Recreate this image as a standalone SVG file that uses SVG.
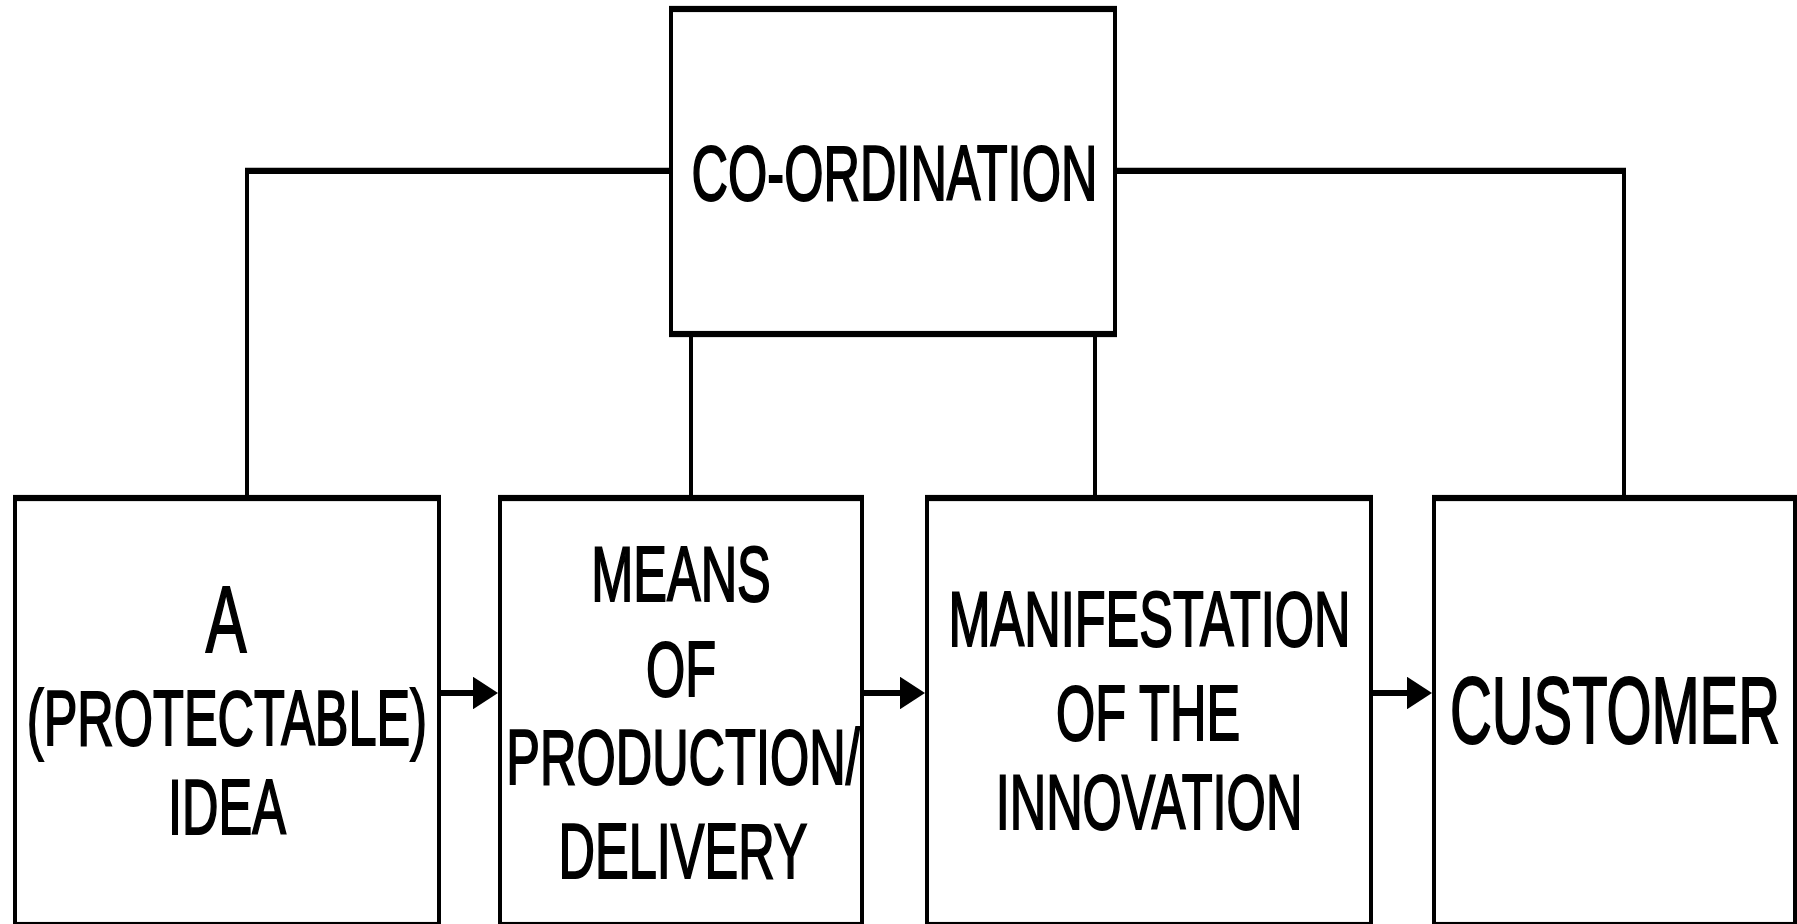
<svg xmlns="http://www.w3.org/2000/svg" width="1797" height="924" viewBox="0 0 1797 924">
  <style>
    .box { fill: #ffffff; stroke: #000000; stroke-width: 4; }
    .wire { fill: none; stroke: #000000; stroke-width: 4; }
    .lbl { font-family: "Liberation Sans", Arial, Helvetica, sans-serif; font-size: 50.5px; fill: #000000; stroke: #000000; stroke-width: 1.3; text-anchor: middle; }
    .big { font-size: 61px; }
  </style>
  <defs>
    <marker id="head" markerUnits="userSpaceOnUse" viewBox="0 0 25 21" refX="0" refY="10.5" markerWidth="25" markerHeight="21" orient="auto">
      <path d="M0,0 L25,10.5 L0,21 Z" fill="#000000"/>
    </marker>
  </defs>
  <rect width="1797" height="924" fill="#ffffff"/>
  <!-- drawing is laid out in a vertically stretched frame -->
  <g transform="scale(1,1.55)">
    <g id="connectors">
      <path class="wire" d="M247,321.3 V110.3 H671"/>
      <path class="wire" d="M1115,110.3 H1624 V321.3"/>
      <path class="wire" d="M691,215.5 V321.3"/>
      <path class="wire" d="M1095,215.5 V321.3"/>
      <path class="wire" d="M439,447.1 H473" marker-end="url(#head)"/>
      <path class="wire" d="M862,447.1 H900" marker-end="url(#head)"/>
      <path class="wire" d="M1371,447.1 H1407" marker-end="url(#head)"/>
    </g>
    <g id="coordination">
      <rect class="box" x="671" y="5.8" width="444" height="209.7"/>
      <text class="lbl" x="894.5" y="129">CO-ORDINATION</text>
    </g>
    <g id="idea">
      <rect class="box" x="15" y="321.3" width="424" height="275.5"/>
      <text class="lbl big" x="226" y="420.6">A</text>
      <text class="lbl" x="227" y="480.6">(PROTECTABLE)</text>
      <text class="lbl" x="227" y="538.1">IDEA</text>
    </g>
    <g id="means">
      <rect class="box" x="500" y="321.3" width="362" height="275.5"/>
      <text class="lbl" x="681" y="387.5">MEANS</text>
      <text class="lbl" x="681" y="449">OF</text>
      <text class="lbl" x="683" y="505.8">PRODUCTION/</text>
      <text class="lbl" x="683" y="566.5">DELIVERY</text>
    </g>
    <g id="manifestation">
      <rect class="box" x="927" y="321.3" width="444" height="275.5"/>
      <text class="lbl" x="1149.5" y="416.8">MANIFESTATION</text>
      <text class="lbl" x="1148" y="477.4">OF THE</text>
      <text class="lbl" x="1149" y="534.8">INNOVATION</text>
    </g>
    <g id="customer">
      <rect class="box" x="1434" y="321.3" width="361" height="275.5"/>
      <text class="lbl big" x="1615" y="479.5" textLength="330" lengthAdjust="spacingAndGlyphs">CUSTOMER</text>
    </g>
  </g>
</svg>
